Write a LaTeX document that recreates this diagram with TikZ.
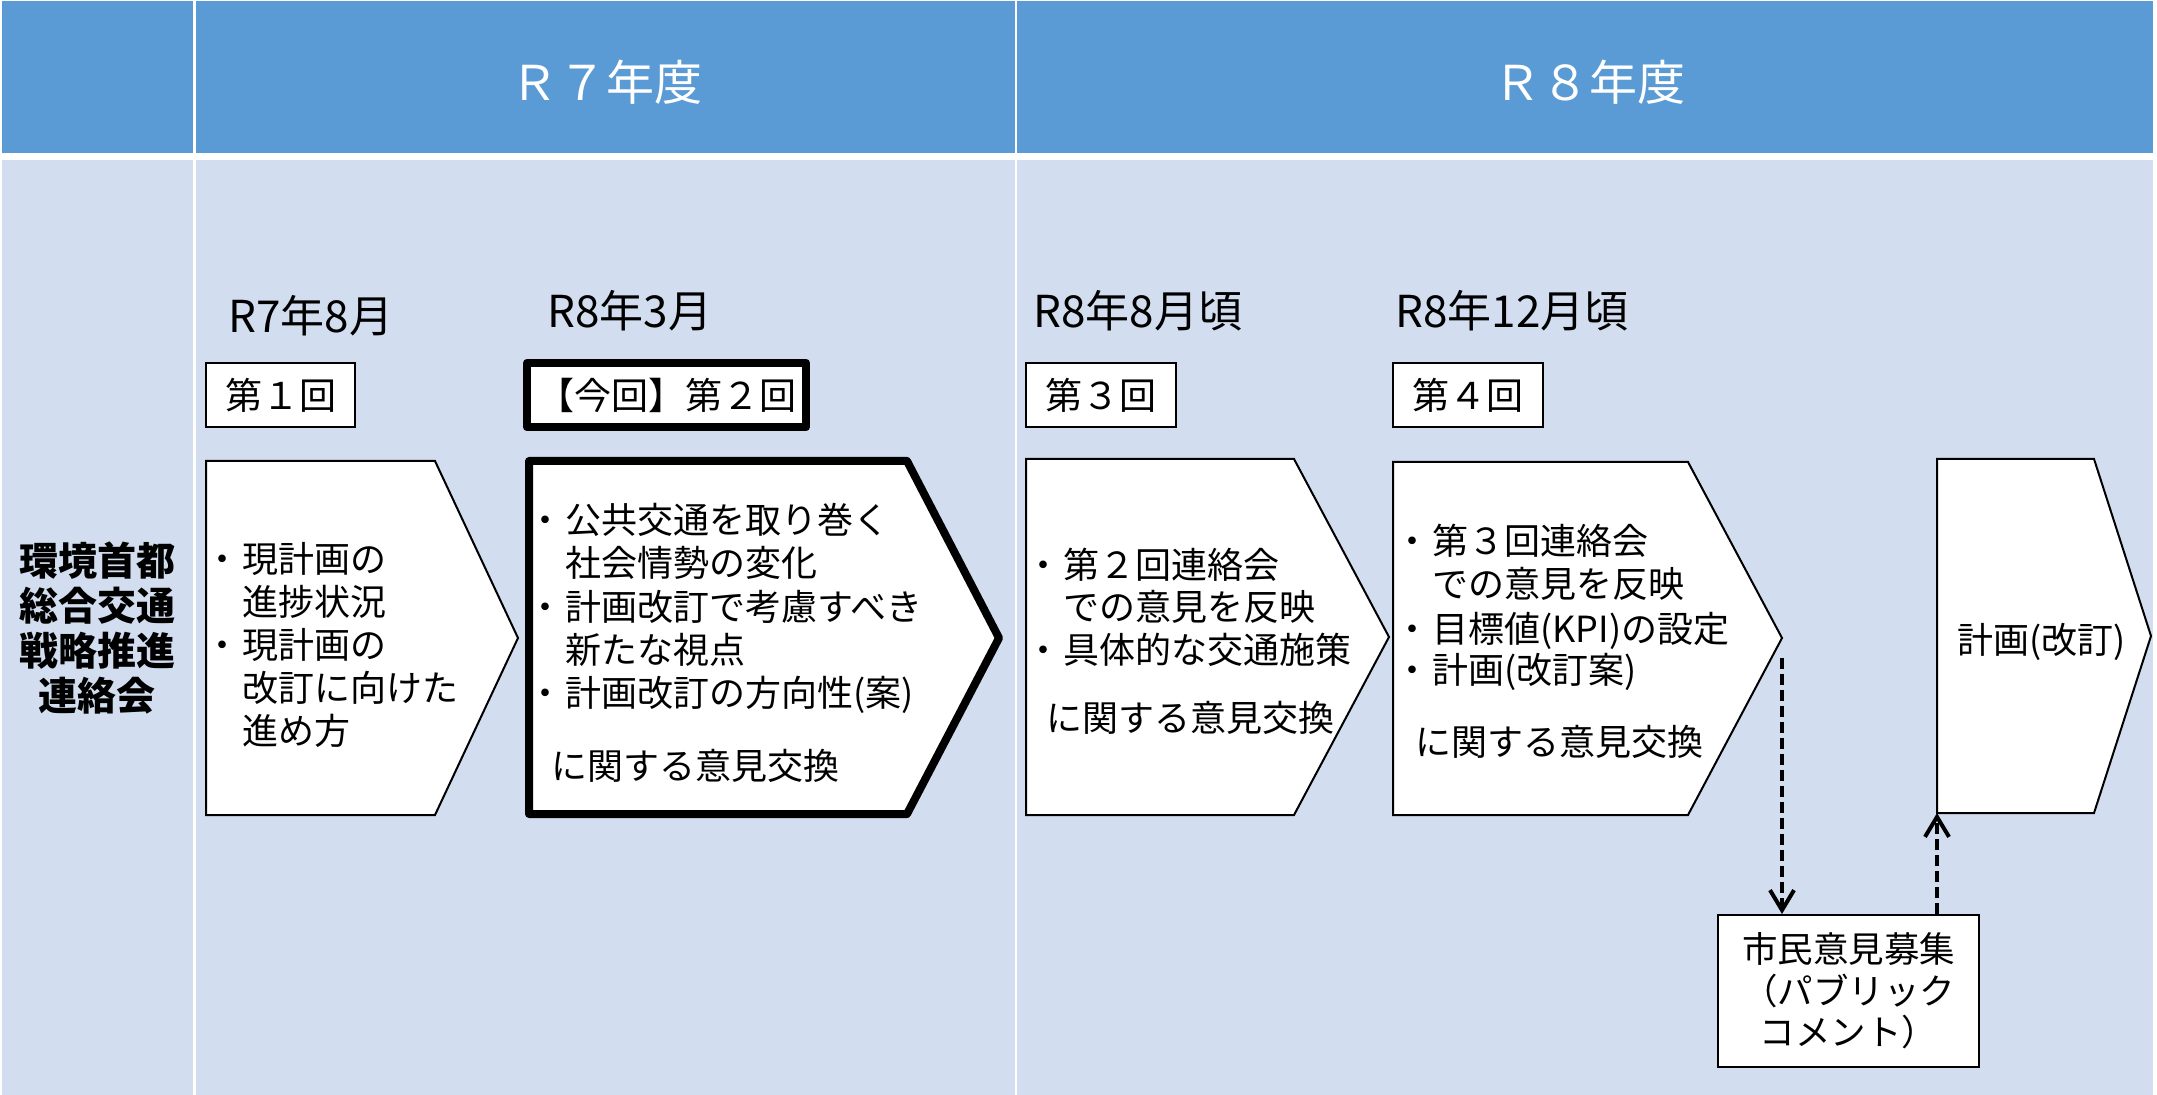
\documentclass[tikz,border=0pt]{standalone}
\usepackage{fontspec}
\setmainfont{Noto Sans CJK JP}
\usetikzlibrary{arrows.meta}
\definecolor{hdr}{RGB}{91,155,213}
\definecolor{bdy}{RGB}{210,222,239}
\newcommand\bl{\llap{\makebox[1.1em][c]{・}}}
\tikzset{
 hd/.style={text=white, anchor=base, inner sep=0, font=\fontsize{24}{28}\selectfont},
 dt/.style={anchor=base west, inner sep=0, font=\fontsize{22}{26}\selectfont},
 lbl/.style={draw=black, line width=1pt, fill=white, inner sep=0, font=\fontsize{18.5}{22}\selectfont},
 ln/.style={anchor=base west, inner sep=0, font=\fontsize{18}{21.5}\selectfont},
 shp/.style={draw=black, line width=1pt, fill=white},
 shpthick/.style={draw=black, line width=4pt, fill=white, line join=round},
 dsh/.style={line width=2pt, dash pattern=on 5.5pt off 2.5pt, -{Straight Barb[length=10pt,width=12pt,line width=2pt]}},
}
\begin{document}
\begin{tikzpicture}[x=0.5pt,y=-0.5pt]
\useasboundingbox (0,0) rectangle (2157,1095);
\fill[white] (0,0) rectangle (2157,1095);
% table cells
\fill[hdr] (2,1) rectangle (193,153);
\fill[hdr] (196,1) rectangle (1015,153);
\fill[hdr] (1017,1) rectangle (2153,153);
\fill[bdy] (2,160) rectangle (193,1095);
\fill[bdy] (196,160) rectangle (1015,1095);
\fill[bdy] (1017,160) rectangle (2153,1095);
% headers
\node[hd] (h7) at (606,101) {Ｒ７年度};
\node[hd] (h8) at (1589,101) {Ｒ８年度};
% left column
\node[align=center, inner sep=0, font=\bfseries\fontsize{19.5}{22.35}\selectfont] (org) at (97,628) {環境首都\\総合交通\\戦略推進\\連絡会};
% dates
\node[dt] (d1) at (228,333) {R7年8月};
\node[dt] (d2) at (547,328) {R8年3月};
\node[dt] (d3) at (1033,328) {R8年8月頃};
\node[dt] (d4) at (1395,328) {R8年12月頃};
% meeting boxes
\node[lbl, minimum width=74.5pt, minimum height=32pt] (b1) at (280.5,395) {第１回};
\node[lbl, line width=4pt, line join=round, minimum width=139.5pt, minimum height=32.2pt] (b2) at (666.5,395) {【今回】第２回};
\node[lbl, minimum width=75pt, minimum height=32pt] (b3) at (1101,395) {第３回};
\node[lbl, minimum width=75pt, minimum height=32pt] (b4) at (1468,395) {第４回};
% chevrons
\draw[shp] (206,461) -- (435,461) -- (518,638) -- (435,815) -- (206,815) -- cycle;
\draw[shpthick] (529,461) -- (907,461) -- (999,638) -- (907,814) -- (529,814) -- cycle;
\draw[shp] (1026,459) -- (1294,459) -- (1389,637) -- (1294,815) -- (1026,815) -- cycle;
\draw[shp] (1393,462) -- (1688,462) -- (1782,638) -- (1688,815) -- (1393,815) -- cycle;
\draw[shp] (1937,459) -- (2094,459) -- (2151,636) -- (2094,813) -- (1937,813) -- cycle;
\coordinate (s4tip) at (1782,638);
\coordinate (s5bl) at (1937,813);
% chevron 1 text
\node[ln] (s1a) at (242,573) {\bl 現計画の};
\node[ln] (s1b) at (242,616) {進捗状況};
\node[ln] (s1c) at (242,659) {\bl 現計画の};
\node[ln] (s1d) at (242,702) {改訂に向けた};
\node[ln] (s1e) at (242,745) {進め方};
% chevron 2 text
\node[ln] (s2a) at (565,534) {\bl 公共交通を取り巻く};
\node[ln] (s2b) at (565,577) {社会情勢の変化};
\node[ln] (s2c) at (565,621) {\bl 計画改訂で考慮すべき};
\node[ln] (s2d) at (565,664) {新たな視点};
\node[ln] (s2e) at (565,707) {\bl 計画改訂の方向性(案)};
\node[ln] (s2f) at (551,779) {に関する意見交換};
% chevron 3 text
\node[ln] (s3a) at (1063,579) {\bl 第２回連絡会};
\node[ln] (s3b) at (1063,621) {での意見を反映};
\node[ln] (s3c) at (1063,664) {\bl 具体的な交通施策};
\node[ln] (s3d) at (1046,732) {に関する意見交換};
% chevron 4 text
\node[ln] (s4a) at (1432,555) {\bl 第３回連絡会};
\node[ln] (s4b) at (1432,598) {での意見を反映};
\node[ln] (s4c) at (1432,643) {\bl 目標値(KPI)の設定};
\node[ln] (s4d) at (1432,684) {\bl 計画(改訂案)};
\node[ln] (s4e) at (1415,755) {に関する意見交換};
% chevron 5 text
\node[ln] (s5a) at (1957,654) {計画(改訂)};
% public comment
\node[lbl, align=center, minimum width=130.5pt, minimum height=76pt, font=\fontsize{17.75}{20.75}\selectfont] (pc) at (1848.5,991) {市民意見募集\\（パブリック\\コメント）};
% arrows
\draw[dsh] ([yshift=-10pt]s4tip) -- (s4tip |- pc.north);
\draw[dsh] (pc.north -| s5bl) -- (s5bl);
\end{tikzpicture}
\end{document}
